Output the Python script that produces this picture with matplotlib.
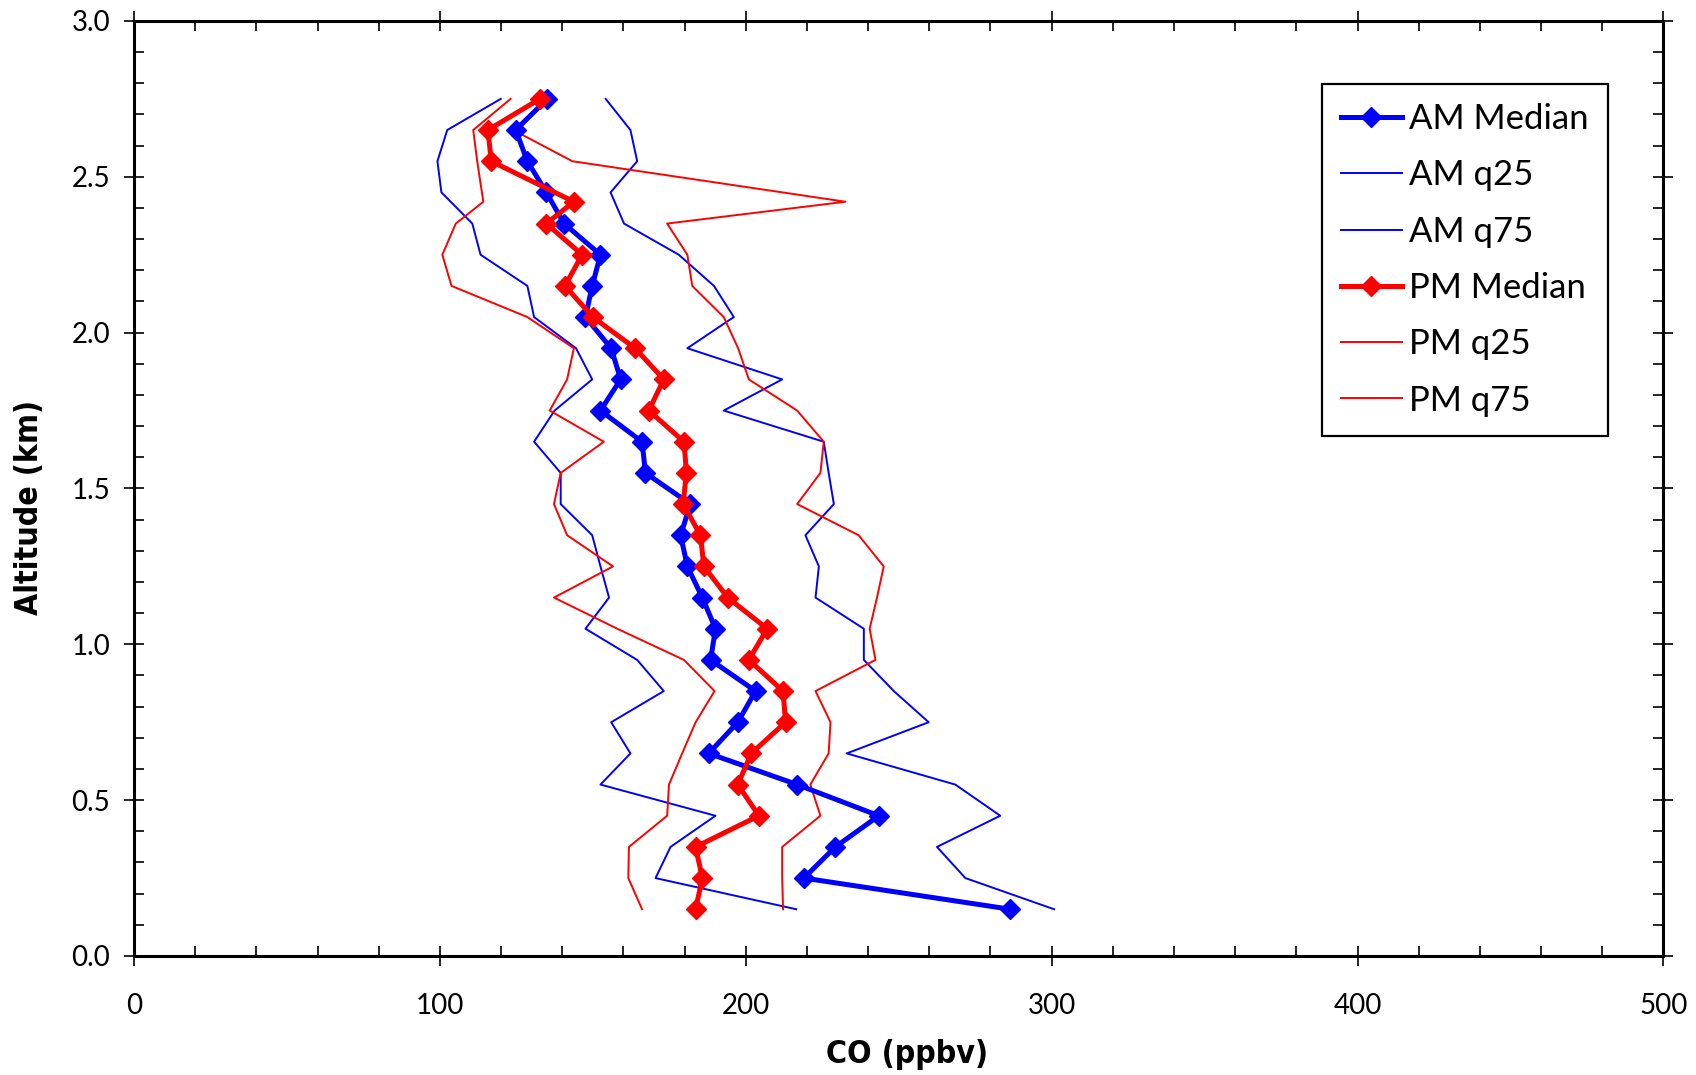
import numpy as np
import matplotlib
matplotlib.use("Agg")
import matplotlib.pyplot as plt
from matplotlib.ticker import MultipleLocator

# altitude levels (km)
am_alt = [0.15, 0.25, 0.35, 0.45, 0.55, 0.65, 0.75, 0.85, 0.95, 1.05, 1.15, 1.25, 1.35,
          1.45, 1.55, 1.65, 1.75, 1.85, 1.95, 2.05, 2.15, 2.25, 2.35, 2.45, 2.55, 2.65, 2.75]
pm_alt = [0.15, 0.25, 0.35, 0.45, 0.55, 0.65, 0.75, 0.85, 0.95, 1.05, 1.15, 1.25, 1.35,
          1.45, 1.55, 1.65, 1.75, 1.85, 1.95, 2.05, 2.15, 2.25, 2.35, 2.42, 2.55, 2.65, 2.75]

# CO (ppbv)
am_median = [286.5, 219.0, 229.3, 243.5, 216.8, 187.9, 197.4, 203.2, 188.5, 190.1, 185.8, 180.9, 178.7,
             181.9, 167.2, 166.1, 152.5, 159.1, 156.0, 147.6, 149.8, 152.5, 140.6, 134.8, 128.6, 124.8, 135.1]
am_q25 = [216.5, 170.5, 175.4, 190.1, 152.5, 162.3, 156.0, 173.2, 164.5, 147.6, 155.3, 152.5, 149.8,
          139.5, 139.5, 130.8, 137.5, 149.8, 144.5, 130.8, 128.6, 113.3, 110.6, 100.5, 99.2, 102.4, 119.9]
am_q75 = [300.8, 271.8, 262.5, 283.2, 268.5, 233.0, 259.8, 248.4, 238.6, 238.6, 222.8, 223.9, 219.5,
          228.8, 227.1, 225.5, 192.8, 211.9, 180.9, 196.1, 189.6, 178.1, 160.2, 155.8, 164.5, 162.3, 154.2]

pm_median = [183.6, 185.8, 183.6, 204.3, 197.4, 201.8, 213.0, 212.2, 201.0, 207.0, 194.1, 186.3, 185.2,
             179.5, 180.6, 179.8, 168.3, 173.2, 163.8, 150.0, 140.9, 146.5, 134.8, 143.8, 116.8, 115.7, 132.7]
pm_q25 = [166.1, 161.6, 161.8, 174.3, 174.9, 179.2, 183.6, 189.8, 179.8, 158.0, 137.3, 156.6, 141.6,
          137.3, 139.5, 153.6, 135.9, 141.6, 143.8, 128.6, 103.8, 100.8, 105.2, 114.2, 112.2, 110.9, 123.1]
pm_q75 = [212.2, 211.9, 211.9, 224.4, 221.1, 227.1, 227.7, 222.8, 242.4, 240.5, 242.9, 245.1, 236.9,
          216.8, 224.4, 225.5, 216.8, 201.0, 197.5, 192.8, 182.5, 180.9, 174.3, 232.6, 143.3, 124.0, 135.0]

tick_font = "Lato"

fig = plt.figure(figsize=(16.96, 10.75), dpi=100)
ax = fig.add_axes([0.079, 0.1107, 0.9018, 0.8698])

blue = (0, 0, 1)
red = (1, 0, 0)

# quartile lines (thin) and medians (thick with diamonds)
ax.plot(am_median, am_alt, color=blue, linewidth=3.6, marker="D", markersize=10,
        label="AM Median", zorder=4)
ax.plot(am_q25, am_alt, color=blue, linewidth=1.4, label="AM q25", zorder=3)
ax.plot(am_q75, am_alt, color=blue, linewidth=1.4, label="AM q75", zorder=3)
ax.plot(pm_median, pm_alt, color=red, linewidth=3.6, marker="D", markersize=10,
        label="PM Median", zorder=5)
ax.plot(pm_q25, pm_alt, color=red, linewidth=1.4, label="PM q25", zorder=3)
ax.plot(pm_q75, pm_alt, color=red, linewidth=1.4, label="PM q75", zorder=3)

ax.set_xlim(0, 500)
ax.set_ylim(0, 3.0)
ax.xaxis.set_major_locator(MultipleLocator(100))
ax.xaxis.set_minor_locator(MultipleLocator(20))
ax.yaxis.set_major_locator(MultipleLocator(0.5))
ax.yaxis.set_minor_locator(MultipleLocator(0.1))
ax.yaxis.set_major_formatter(matplotlib.ticker.FormatStrFormatter("%.1f"))

for s in ax.spines.values():
    s.set_linewidth(2.2)

ax.tick_params(which="major", direction="inout", length=14, width=1.2,
               top=True, right=True, labelsize=20)
ax.tick_params(which="minor", direction="in", length=7, width=1.2, top=True, right=True)
ax.tick_params(axis="x", which="major", pad=20)
ax.tick_params(axis="y", which="major", pad=10)
for t in ax.get_xticklabels() + ax.get_yticklabels():
    t.set_fontfamily(tick_font)

# axis titles in a condensed bold face
ax.set_xlabel("CO (ppbv)", fontsize=23, fontweight="bold", family="DejaVu Sans",
              fontstretch="condensed")
ax.set_ylabel("Altitude (km)", fontsize=23, fontweight="bold", family="DejaVu Sans",
              fontstretch="condensed")
ax.xaxis.set_label_coords(0.5056, -0.089)
ax.yaxis.set_label_coords(-0.058, 0.48)

leg = ax.legend(loc="upper right", bbox_to_anchor=(0.9637, 0.9326), fancybox=False,
                framealpha=1, edgecolor="black", prop={"family": tick_font, "size": 25},
                handlelength=1.75, labelspacing=0.70, borderpad=0.55, handletextpad=0.22,
                borderaxespad=0)
leg.get_frame().set_linewidth(1.6)

fig.savefig("out.png", dpi=100)
